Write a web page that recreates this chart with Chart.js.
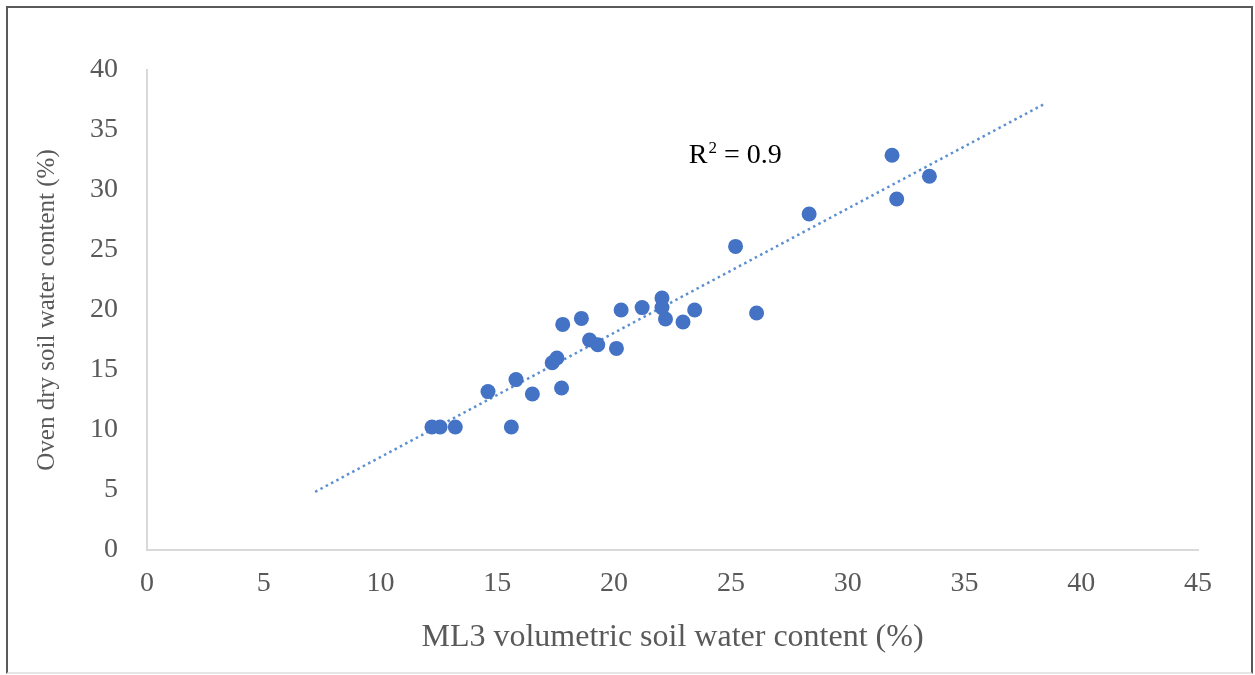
<!DOCTYPE html>
<html>
<head>
<meta charset="utf-8">
<script src="https://cdn.jsdelivr.net/npm/chart.js@4"></script>
<style>
  body { margin: 0; background: #fff; }
  #wrap { position: relative; width: 1255px; height: 675px; }
  #frame { position: absolute; left: 6px; top: 6px; width: 1243px; height: 664px;
           border: 2px solid #595959; border-bottom-color: #e6e6e6; pointer-events: none; }
</style>
</head>
<body>
<div id="wrap">
  <canvas id="chartSoil" width="1255" height="675"></canvas>
  <div id="frame"></div>
</div>
<script>
// data
let ml3Values = [12.2, 12.55, 13.2, 15.6, 14.6, 15.8, 16.5, 17.75, 17.35, 17.55,
  17.8, 18.6, 18.95, 19.3, 20.1, 20.3, 21.2, 22.05, 22.05, 22.2,
  22.95, 23.45, 25.2, 26.1, 28.35, 31.9, 32.1, 33.5];
let ovenValues = [10.25, 10.25, 10.25, 10.25, 13.2, 14.2, 13.0, 13.5, 15.6, 16.0,
  18.8, 19.3, 17.5, 17.1, 16.8, 20.0, 20.2, 21.0, 20.2, 19.25,
  19.0, 20.0, 25.3, 19.75, 28.0, 32.9, 29.25, 31.15];

// garis tren (ujung-ujung)
let trendX = [7.2, 38.45];
let trendY = [4.85, 37.2];

let xTicks = [0, 5, 10, 15, 20, 25, 30, 35, 40, 45];
let yTicks = [0, 5, 10, 15, 20, 25, 30, 35, 40];

let r2Label = "= 0.9";
let r2Pos = [23.2, 32.9];

let serif = "'Liberation Serif', 'Times New Roman', serif";

// tulisan R²
const r2Plugin = {
  id: "r2Text",
  afterDatasetsDraw(chart) {
    let ctx = chart.ctx;
    let x = chart.scales.x.getPixelForValue(r2Pos[0]);
    let y = chart.scales.y.getPixelForValue(r2Pos[1]);
    ctx.save();
    ctx.fillStyle = "#000";
    ctx.textBaseline = "middle";
    ctx.font = "28px " + serif;
    ctx.fillText("R", x, y);
    let w = ctx.measureText("R").width;
    ctx.font = "17px " + serif;
    ctx.fillText("2", x + w + 1, y - 7);
    let w2 = ctx.measureText("2").width;
    ctx.font = "28px " + serif;
    ctx.fillText(" " + r2Label, x + w + w2 + 1, y);
    ctx.restore();
  }
};

let points = ml3Values.map((v, i) => ({ x: v, y: ovenValues[i] }));
let trendPoints = trendX.map((v, i) => ({ x: v, y: trendY[i] }));

new Chart(document.getElementById("chartSoil"), {
  type: "scatter",
  data: {
    datasets: [
      {
        label: "Data",
        data: points,
        backgroundColor: "#4472c4",
        borderColor: "#4472c4",
        pointRadius: 7.5,
        borderWidth: 0
      },
      {
        label: "Trend",
        type: "line",
        data: trendPoints,
        borderColor: "#5b8fd0",
        borderWidth: 2.5,
        borderDash: [2.5, 3.5],
        pointRadius: 0,
        fill: false
      }
    ]
  },
  options: {
    responsive: false,
    animation: false,
    layout: { padding: { top: 70, right: 57, bottom: 0, left: 0 } },
    plugins: { legend: { display: false }, tooltip: { enabled: false } },
    scales: {
      x: {
        type: "linear",
        min: 0,
        max: 45,
        afterBuildTicks: (s) => { s.ticks = xTicks.map(v => ({ value: v })); },
        afterFit: (s) => { s.height = 125; },
        grid: { drawOnChartArea: false, drawTicks: false },
        border: { color: "#d9d9d9", width: 2 },
        ticks: { color: "#595959", padding: 17, font: { family: serif, size: 28 } },
        title: {
          display: true,
          text: "ML3 volumetric soil water content (%)",
          color: "#595959",
          font: { family: serif, size: 32 },
          padding: { top: 0, bottom: 18 }
        }
      },
      y: {
        type: "linear",
        min: 0,
        max: 40,
        afterBuildTicks: (s) => { s.ticks = yTicks.map(v => ({ value: v })); },
        afterFit: (s) => { s.width = 147; },
        grid: { drawOnChartArea: false, drawTicks: false },
        border: { color: "#d9d9d9", width: 2 },
        ticks: { color: "#595959", padding: 29, font: { family: serif, size: 28 } },
        title: {
          display: true,
          text: "Oven dry soil water content (%)",
          color: "#595959",
          font: { family: serif, size: 25 },
          padding: { top: 32, bottom: 0 }
        }
      }
    }
  },
  plugins: [r2Plugin]
});
</script>
</body>
</html>
